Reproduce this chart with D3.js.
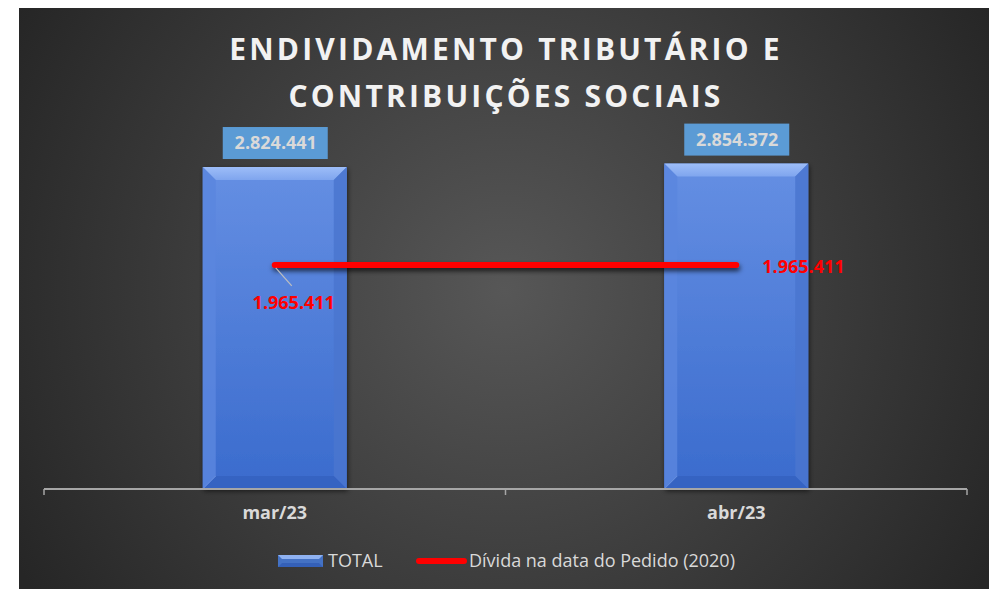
<!DOCTYPE html>
<html><head><meta charset="utf-8">
<script src="https://cdn.jsdelivr.net/npm/d3@7"></script>
<style>html,body{margin:0;padding:0;background:#fff;}svg{display:block;}</style>
</head><body>
<script>
const categories = ["mar/23", "abr/23"];
const totalValues = [2824441, 2854372];
const debtValues = [1965411, 1965411];
const titleLines = ["ENDIVIDAMENTO TRIBUTÁRIO E", "CONTRIBUIÇÕES SOCIAIS"];
const legendLabels = ["TOTAL", "Dívida na data do Pedido (2020)"];
const fmt = v => d3.format(",")(v).replace(/,/g, ".");

const W = 989, H = 589;
const svg = d3.select("body").append("svg").attr("width", W).attr("height", H);
const defs = svg.append("defs");

const bg = defs.append("radialGradient").attr("id","bg").attr("gradientUnits","userSpaceOnUse")
  .attr("cx",505).attr("cy",290).attr("r",560);
bg.append("stop").attr("offset","0%").attr("stop-color","#575757");
bg.append("stop").attr("offset","100%").attr("stop-color","#262626");

const barG = defs.append("linearGradient").attr("id","barG").attr("x1",0).attr("y1",0).attr("x2",0).attr("y2",1);
barG.append("stop").attr("offset","0%").attr("stop-color","#658fe3");
barG.append("stop").attr("offset","100%").attr("stop-color","#3a6bcd");
const topG = defs.append("linearGradient").attr("id","topG").attr("x1",0).attr("y1",0).attr("x2",0).attr("y2",1);
topG.append("stop").attr("offset","0%").attr("stop-color","#9dbdf8");
topG.append("stop").attr("offset","100%").attr("stop-color","#7fa5ee");

const sh = defs.append("filter").attr("id","sh").attr("x","-20%").attr("y","-20%").attr("width","140%").attr("height","140%");
sh.append("feDropShadow").attr("dx",1).attr("dy",2).attr("stdDeviation",2.5).attr("flood-color","#000").attr("flood-opacity",0.6);
const shL = defs.append("filter").attr("id","shL").attr("filterUnits","userSpaceOnUse")
  .attr("x",0).attr("y",0).attr("width",W).attr("height",H);
shL.append("feDropShadow").attr("dx",1).attr("dy",3).attr("stdDeviation",2.5).attr("flood-color","#000").attr("flood-opacity",0.7);

svg.append("rect").attr("x",19).attr("y",8).attr("width",W-19).attr("height",H-8).attr("fill","url(#bg)");

// title
svg.append("g").selectAll("text").data(titleLines).join("text")
  .attr("x",506).attr("y",(d,i)=>60+i*47)
  .attr("text-anchor","middle")
  .attr("font-family","Open Sans").attr("font-weight",700).attr("font-size",30)
  .attr("letter-spacing",3.2).attr("fill","#f2f2f2")
  .text(d=>d);

const x = d3.scaleBand().domain(categories).range([44, 967]).padding(0);
const y = d3.scaleLinear().domain([0, 3500000]).range([489, 90]);
const bw = x.bandwidth()*0.312;
const cx = c => x(c) + x.bandwidth()/2;

// bars
const bars = svg.append("g").selectAll("g").data(categories).join("g");
bars.each(function(c,i){
  const g = d3.select(this);
  const x0 = cx(c)-bw/2, x1 = cx(c)+bw/2, y0 = y(totalValues[i]), y1 = y(0);
  const b = 13;
  g.append("rect").attr("x",x0).attr("y",y0).attr("width",bw).attr("height",y1-y0)
    .attr("fill","url(#barG)").attr("filter","url(#sh)");
  g.append("path").attr("d",`M${x0},${y0}L${x1},${y0}L${x1-b},${y0+b}L${x0+b},${y0+b}Z`).attr("fill","url(#topG)");
  g.append("path").attr("d",`M${x0},${y0}L${x0+b},${y0+b}L${x0+b},${y1-b}L${x0},${y1}Z`).attr("fill","#5a86de").attr("opacity",0.85);
  g.append("path").attr("d",`M${x1},${y0}L${x1-b},${y0+b}L${x1-b},${y1-b}L${x1},${y1}Z`).attr("fill","#4a76cf").attr("opacity",0.85);
  g.append("path").attr("d",`M${x0},${y1}L${x0+b},${y1-b}L${x1-b},${y1-b}L${x1},${y1}Z`).attr("fill","#3562c0").attr("opacity",0.85);
  g.append("line").attr("x1",x0+1).attr("x2",x0+b).attr("y1",y1-1).attr("y2",y1-b).attr("stroke","#86a8ec").attr("stroke-width",1).attr("opacity",0.6);
  // value box
  const bx = cx(c), by = y0 - 8;
  g.append("rect").attr("x",bx-52).attr("y",by-32).attr("width",105).attr("height",32).attr("fill","#5b9bd5");
  g.append("text").attr("x",bx+1).attr("y",by-10).attr("text-anchor","middle")
    .attr("font-family","Open Sans").attr("font-weight",700).attr("font-size",18).attr("fill","#d9d9d9")
    .text(fmt(totalValues[i]));
});

// axis
const axisG = svg.append("g").attr("transform","translate(0,489)")
  .call(d3.axisBottom(x).tickSize(0).tickPadding(17));
axisG.select(".domain").remove();
axisG.append("line").attr("x1",44).attr("x2",967).attr("stroke","#a6a6a6").attr("stroke-width",2);
axisG.selectAll(".septick").data([44, 505.5, 967]).join("line").attr("class","septick")
  .attr("x1",d=>d).attr("x2",d=>d).attr("y1",0).attr("y2",6).attr("stroke","#a6a6a6").attr("stroke-width",1.5);
axisG.selectAll(".tick text").attr("font-family","Open Sans").attr("font-weight",700)
  .attr("font-size",18).attr("fill","#d9d9d9");

// red line
const line = d3.line().x((d,i)=>cx(categories[i])).y(d=>y(d));
svg.append("path").datum(debtValues).attr("d",line).attr("fill","none")
  .attr("stroke","#ff0000").attr("stroke-width",6).attr("stroke-linecap","round").attr("filter","url(#shL)");

// red labels
svg.append("line").attr("x1",cx(categories[0])+1).attr("y1",y(debtValues[0])+3)
  .attr("x2",cx(categories[0])+17).attr("y2",y(debtValues[0])+21).attr("stroke","#bfbfbf").attr("stroke-width",1.2);
const redPos = [[cx(categories[0])+19, y(debtValues[0])+44, "middle"], [cx(categories[1])+26, y(debtValues[1])+8, "start"]];
svg.append("g").selectAll("text").data(debtValues).join("text")
  .attr("x",(d,i)=>redPos[i][0]).attr("y",(d,i)=>redPos[i][1]).attr("text-anchor",(d,i)=>redPos[i][2])
  .attr("font-family","Open Sans").attr("font-weight",700).attr("font-size",18).attr("fill","#ff0000")
  .text(d=>fmt(d));

// legend
const lg = svg.append("g");
lg.append("rect").attr("x",278).attr("y",555).attr("width",45).attr("height",12).attr("fill","#4472c4");
lg.append("path").attr("d","M278,555L323,555L319,559L282,559Z").attr("fill","#8fb2f2");
lg.append("path").attr("d","M278,567L323,567L319,563L282,563Z").attr("fill","#3460b8");
lg.append("text").attr("x",328).attr("y",567).attr("font-family","Open Sans").attr("font-size",18).attr("fill","#d9d9d9").text(legendLabels[0]);
lg.append("line").attr("x1",419).attr("x2",464).attr("y1",561).attr("y2",561).attr("stroke","#ff0000").attr("stroke-width",6).attr("stroke-linecap","round");
lg.append("text").attr("x",469).attr("y",567).attr("font-family","Open Sans").attr("font-size",18).attr("fill","#d9d9d9").text(legendLabels[1]);
</script>
</body></html>
